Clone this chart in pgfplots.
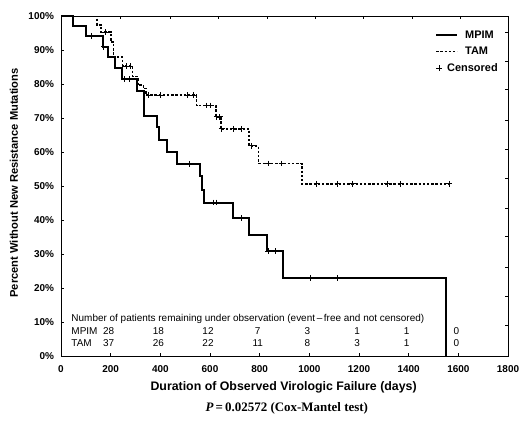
\documentclass[border=0pt]{standalone}
\usepackage{fontspec}
\setmainfont{Liberation Sans}
\newfontfamily\timesfont{Liberation Serif}
\usepackage{pgfplots}
\pgfplotsset{compat=1.18}
\pgfplotsset{censlegend/.style={legend image code/.code={\draw[##1] plot coordinates {(3bp,0bp)};}}}
\begin{document}
\begin{tikzpicture}[x=1bp,y=1bp]
\useasboundingbox (-61,-65) rectangle (468,356);
\begin{axis}[
  at={(0,0)}, anchor=south west,
  scale only axis, width=447bp, height=339.5bp,
  xmin=0, xmax=1800, ymin=0, ymax=100,
  xtick={0,200,...,1800}, ytick={0,10,...,100},
  xtick pos=left, ytick pos=left,
  tick align=inside, major tick length=3bp,
  /pgf/number format/assume math mode=true,
  /pgf/number format/1000 sep={},
  ticklabel style={font=\fontsize{10}{12}\selectfont\bfseries},
  xticklabel style={yshift=-6bp},
  yticklabel style={xshift=-3.5bp},
  yticklabel={\pgfmathprintnumber{\tick}\%},
  axis line style={line width=1bp},
  tick style={line width=0.8bp, black},
  clip=false,
  xlabel={Duration of Observed Virologic Failure (days)},
  ylabel={Percent Without New Resistance Mutations},
  every axis x label/.style={at={(rel axis cs:0.498,0)}, yshift=-31bp, anchor=center, font=\fontsize{12.4}{14}\selectfont\bfseries},
  every axis y label/.style={at={(rel axis cs:0,0.51)}, xshift=-47bp, anchor=center, rotate=90, font=\fontsize{11.2}{13}\selectfont\bfseries},
  legend image code/.code={\draw[#1] (0bp,0bp) -- (21bp,0bp);},
  legend style={draw=none, fill=none, inner sep=0pt, outer sep=0pt, row sep=6.5bp,
    font=\fontsize{11}{13}\selectfont\bfseries,
    nodes={inner sep=0pt, text height=8bp, text depth=2bp},
    /tikz/every odd column/.style={column sep=7bp},
    at={(rel axis cs:0.837,0.96)}, anchor=north west},
  legend cell align=left,
]
\addplot[const plot, black, line width=2bp] coordinates {
(0,100)(50,97.2)(100,94.3)(170,91.1)(191,88.0)(217,84.7)(244,81.5)(305,78.2)(336,70.7)(385,67.4)(396,63.6)(428,60.2)(468,56.6)(560,53.0)(569,48.9)(574,45.2)(694,40.6)(758,35.6)(828,30.9)(893,22.9)(1549,0)
};
\addlegendentry{MPIM}
\addplot[const plot, black, line width=1.8bp, dash pattern=on 2.4bp off 1.8bp] coordinates {
(0,100)(144,97.5)(161,95.4)(200,92.6)(211,88.0)(248,85.4)(288,82.3)(309,79.8)(332,78.8)(342,76.8)(546,73.8)(624,70.4)(643,66.9)(758,61.9)(795,56.7)(969,50.7)(1563,50.7)
};
\addlegendentry{TAM}
\addplot[only marks, black, mark=+, mark size=2.9bp, mark options={line width=1bp}, censlegend] coordinates {
(124,94.3)(173,91.1)(255,81.5)(275,81.5)(516,56.6)(613,45.2)(627,45.2)(728,40.6)(835,30.9)(865,30.9)(1003,22.9)(1114,22.9)
};
\addlegendentry{\hspace*{-18bp}Censored}
\addplot[only marks, black, mark=+, mark size=2.9bp, mark options={line width=1bp}, forget plot] coordinates {
(178,95.4)(262,85.4)(278,85.4)(352,76.8)(399,76.8)(509,76.8)(533,76.8)(587,73.8)(603,73.8)(627,70.4)(640,70.4)(647,66.9)(694,66.9)(728,66.9)(768,61.9)(835,56.7)(889,56.7)(1030,50.7)(1113,50.7)(1175,50.7)(1314,50.7)(1368,50.7)(1563,50.7)
};
% number at risk table
\node[anchor=west, font=\fontsize{10}{12}\selectfont] at (axis cs:28,11.05) {Number of patients remaining under observation (event\,--\,free and not censored)};
\node[anchor=west, font=\fontsize{10}{12}\selectfont] at (axis cs:28,7.45) {MPIM};
\node[anchor=west, font=\fontsize{10}{12}\selectfont] at (axis cs:28,3.9) {TAM};
\node[font=\fontsize{10}{12}\selectfont] at (axis cs:192,7.45) {28};
\node[font=\fontsize{10}{12}\selectfont] at (axis cs:392,7.45) {18};
\node[font=\fontsize{10}{12}\selectfont] at (axis cs:592,7.45) {12};
\node[font=\fontsize{10}{12}\selectfont] at (axis cs:792,7.45) {7};
\node[font=\fontsize{10}{12}\selectfont] at (axis cs:992,7.45) {3};
\node[font=\fontsize{10}{12}\selectfont] at (axis cs:1192,7.45) {1};
\node[font=\fontsize{10}{12}\selectfont] at (axis cs:1392,7.45) {1};
\node[font=\fontsize{10}{12}\selectfont] at (axis cs:1592,7.45) {0};
\node[font=\fontsize{10}{12}\selectfont] at (axis cs:192,3.9) {37};
\node[font=\fontsize{10}{12}\selectfont] at (axis cs:392,3.9) {26};
\node[font=\fontsize{10}{12}\selectfont] at (axis cs:592,3.9) {22};
\node[font=\fontsize{10}{12}\selectfont] at (axis cs:792,3.9) {11};
\node[font=\fontsize{10}{12}\selectfont] at (axis cs:992,3.9) {8};
\node[font=\fontsize{10}{12}\selectfont] at (axis cs:1192,3.9) {3};
\node[font=\fontsize{10}{12}\selectfont] at (axis cs:1392,3.9) {1};
\node[font=\fontsize{10}{12}\selectfont] at (axis cs:1592,3.9) {0};
\node[font=\fontsize{13}{15}\selectfont\timesfont\bfseries] at (rel axis cs:0.505,0) [yshift=-52bp] {\textit{P}\,=\,0.02572 (Cox-Mantel test)};
\end{axis}
\begin{axis}[
  at={(0,0)}, anchor=south west,
  scale only axis, width=447bp, height=339.5bp,
  xmin=0, xmax=1800, ymin=0, ymax=100,
  axis x line*=top, axis y line*=right,
  axis line style={line width=1bp, -},
  tick align=inside, major tick length=3bp,
  tick style={line width=0.8bp, black},
  xtick={238,439,632,830,1023,1216,1414,1607},
  ytick={9.1,17.7,26.2,35.1,43.6,52.4,61.0,69.5,78.4,86.9,95.4},
  xticklabels={}, yticklabels={},
]
\end{axis}
\end{tikzpicture}
\end{document}
